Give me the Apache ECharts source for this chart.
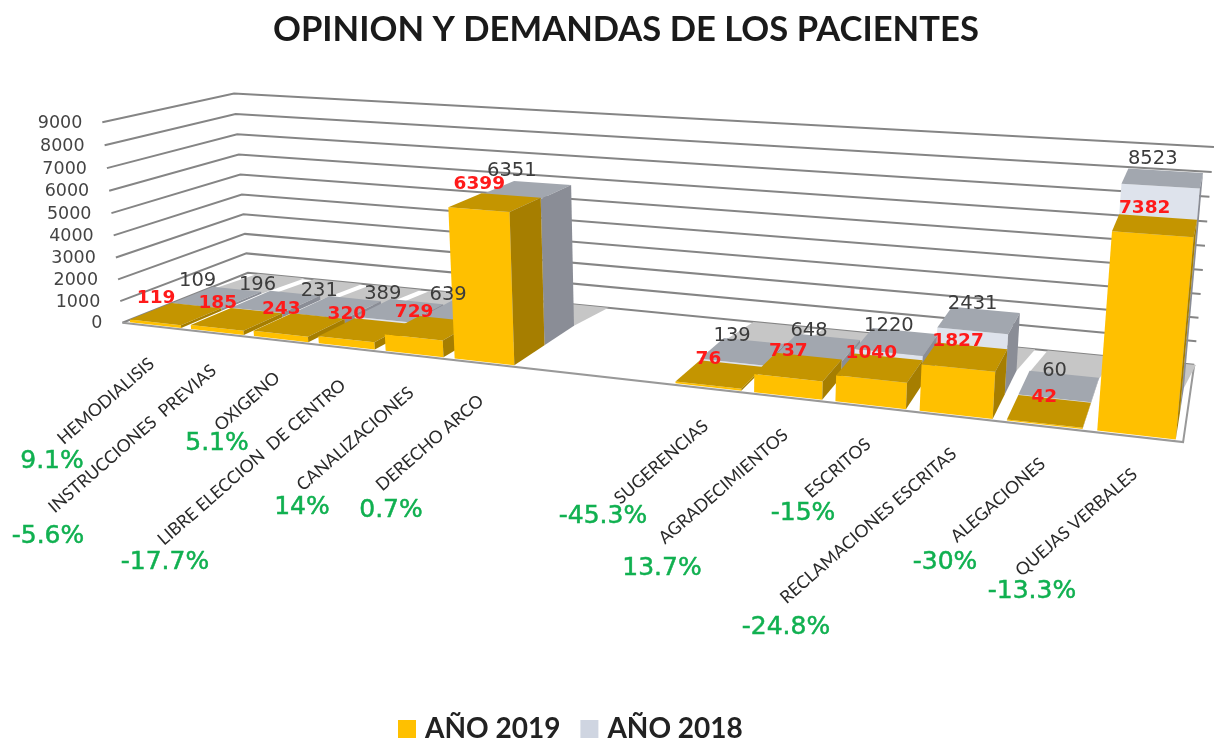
<!DOCTYPE html>
<html><head><meta charset="utf-8">
<style>html,body{margin:0;padding:0;background:#fff}#c{width:1214px;height:740px}</style>
<script src="https://cdn.jsdelivr.net/npm/echarts@6/dist/echarts.min.js"></script>
</head><body><div id="c"></div>
<script>
// ---------- data ----------
const categories = ['HEMODIALISIS','INSTRUCCIONES  PREVIAS','OXIGENO','LIBRE ELECCION  DE CENTRO','CANALIZACIONES','DERECHO ARCO','','','SUGERENCIAS','AGRADECIMIENTOS','ESCRITOS','RECLAMACIONES ESCRITAS','ALEGACIONES','QUEJAS VERBALES'];
const values2019 = [119,185,243,320,729,6399,null,null,76,737,1040,1827,42,7382];
const values2018 = [109,196,231,389,639,6351,null,null,139,648,1220,2431,60,8523];
const tickLabels = [0,1000,2000,3000,4000,5000,6000,7000,8000,9000];
const changes = ['9.1%','-5.6%','5.1%','-17.7%','14%','0.7%','-45.3%','13.7%','-15%','-24.8%','-30%','-13.3%'];
// ---------- layout ----------
const changePos = [[52,461],[48,536],[217,443],[165,562],[302,507],[391,510],[603,516],[662,568],[803,513],[786,627],[945,562],[1032,591]];
const W = 14, GAP = 0.08;
const Y19 = [0.02,0.33], Y18 = [0.33,0.66];
// camera calibration: (X along axis, Y depth, Z height) -> picture position
const calib = [
 [0,0,0,122,323],[1,0,0,1182,440],[0,1,0,249,273],[1,1,0,1195,365],
 [0,0,1,103,122],[0,1,1,233,93],[1,1,1,1213,147],
 [5.08/W,.02,6399/9000,449,208],[5.92/W,.02,0,513,365],[8.08/W,.02,0,675,383],
 [13.08/W,.02,0,1098,432],[13.92/W,.02,7382/9000,1193,237],[13.08/W,.02,7382/9000,1114,232]
];
function solveCamera(pts){
  const n=11, A=Array.from({length:n},()=>new Array(n+1).fill(0));
  const add=(r,b)=>{for(let i=0;i<n;i++){for(let j=0;j<n;j++)A[i][j]+=r[i]*r[j];A[i][n]+=r[i]*b;}};
  pts.forEach(([X,Y,Z,px,py])=>{const x=px/1000,y=py/1000;
    add([X,Y,Z,1,0,0,0,0,-x*X,-x*Y,-x*Z],x);
    add([0,0,0,0,X,Y,Z,1,-y*X,-y*Y,-y*Z],y);});
  for(let c=0;c<n;c++){let p=c;for(let r=c+1;r<n;r++)if(Math.abs(A[r][c])>Math.abs(A[p][c]))p=r;
    [A[c],A[p]]=[A[p],A[c]];
    for(let r=0;r<n;r++){if(r===c)continue;const f=A[r][c]/A[c][c];for(let k=c;k<=n;k++)A[r][k]-=f*A[c][k];}}
  return A.map((row,i)=>row[n]/row[i]);
}
const P = solveCamera(calib);
function proj(X,Y,Z){const w=P[8]*X+P[9]*Y+P[10]*Z+1;
  return [1000*(P[0]*X+P[1]*Y+P[2]*Z+P[3])/w,1000*(P[4]*X+P[5]*Y+P[6]*Z+P[7])/w];}
// scale helpers: go through the hidden cartesian axes
function cellX(api,params,i){const cs=params.coordSys,band=api.size([1,0])[0];const c=api.coord([i,0])[0];
  return [(c-band/2-cs.x)/cs.width,band/cs.width];}
function normZ(api,params,v){const cs=params.coordSys;return (cs.y+cs.height-api.coord([0,v])[1])/cs.height;}
function poly(pts,fill){return {type:'polygon',shape:{points:pts},style:{fill:fill},silent:true};}

function barRender(row,cols){
  return function(params,api){
    const i=api.value(0),v=api.value(1);
    const [x0,b]=cellX(api,params,i), L=x0+b*GAP, R=x0+b*(1-GAP), Z=normZ(api,params,v);
    const [F,B]=row;
    return {type:'group',children:[
      poly([proj(L,F,0),proj(R,F,0),proj(R,F,Z),proj(L,F,Z)],cols[0]),
      poly([proj(L,F,Z),proj(R,F,Z),proj(R,B,Z),proj(L,B,Z)],cols[1]),
      poly([proj(R,F,0),proj(R,B,0),proj(R,B,Z),proj(R,F,Z)],cols[2])
    ]};
  };
}
function labelRender(row,col,font,lift){
  return function(params,api){
    const i=api.value(0),v=api.value(1);
    const [x0,b]=cellX(api,params,i), L=x0+b*GAP, Z=normZ(api,params,v);
    const p=proj(L+b*(i/13)*0.33,(row[0]+row[1])/2,Z);
    return {type:'text',x:p[0]+(i===13?-2:5),y:p[1]-lift-Z*5,style:{text:String(v),font:font,fill:col,align:'center',verticalAlign:'middle'}};
  };
}
function pairs(vals){return vals.map((v,i)=>[i,v]).filter(d=>d[1]!==null);}

const option={
  animation:false,backgroundColor:'#fff',
  title:{text:'OPINION Y DEMANDAS DE LOS PACIENTES',left:273,top:12,padding:0,
    textStyle:{fontFamily:'Lato',fontWeight:'bold',fontSize:34.6,color:'#1a1a1a'}},
  legend:{data:['AÑO 2019','AÑO 2018'],left:393,top:710,icon:'rect',itemWidth:18,itemHeight:18,itemGap:20,
    textStyle:{fontFamily:'Lato',fontWeight:'bold',fontSize:28,color:'#222',padding:[0,0,0,4]}},
  grid:{left:0,right:0,top:0,bottom:0},
  xAxis:{type:'category',data:categories,show:false},
  yAxis:{type:'value',min:0,max:9000,interval:1000,show:false},
  series:[
   {name:'frame',type:'custom',z:1,silent:true,data:tickLabels.map(v=>[0,v]),
    renderItem(params,api){
      const Z=normZ(api,params,api.value(1));
      const a=proj(0,0,Z),b=proj(0,1,Z),c=proj(1,1,Z);
      const ls={stroke:'#858585',lineWidth:2,fill:null};
      const kids=[{type:'polyline',shape:{points:[a,b,c]},style:ls,silent:true},
        {type:'text',x:a[0]-20,y:a[1]+1,style:{text:String(api.value(1)),font:'17.5px "DejaVu Sans"',fill:'#444',align:'right',verticalAlign:'middle'}}];
      if(api.value(1)===0){kids.push({type:'polyline',shape:{points:[a,proj(1,0,0),c]},style:{stroke:'#999',lineWidth:2,fill:null},silent:true});}
      return {type:'group',children:kids};
    }},
   {name:'shadow',type:'custom',z:2,silent:true,data:pairs(values2018),
    renderItem(params,api){
      const [x0,b]=cellX(api,params,api.value(0)),L=x0+b*GAP,R=x0+b*(1-GAP);
      return poly([proj(L,Y18[1],0),proj(R,Y18[1],0),proj(R+b*0.1,1,0),proj(L+b*0.1,1,0)],'#c6c6c6');
    }},
   {name:'catLabels',type:'custom',z:6,silent:true,data:categories.map((c,i)=>[i,0]).filter(d=>categories[d[0]]),
    renderItem(params,api){
      const i=api.value(0),[x0,b]=cellX(api,params,i),p=proj(x0+b/2,0,0);
      return {type:'text',x:p[0]-1,y:p[1]+35,rotation:41*Math.PI/180,style:{text:categories[i],font:'17.5px Lato',fill:'#2a2a2a',align:'right',verticalAlign:'middle'}};
    }},
   {name:'AÑO 2018',type:'custom',z:3,itemStyle:{color:'#CFD5E1'},data:pairs(values2018),
    renderItem:barRender(Y18,['#DEE3EC','#A2A7AF','#8A8D96'])},
   {name:'AÑO 2019',type:'custom',z:4,itemStyle:{color:'#FFC000'},data:pairs(values2019),
    renderItem:barRender(Y19,['#FFC000','#C49500','#A67E00'])},
   {name:'labels2018',type:'custom',z:7,silent:true,data:pairs(values2018),
    renderItem:labelRender(Y18,'#3c3c3c','19.5px "DejaVu Sans"',14)},
   {name:'labels2019',type:'custom',z:8,silent:true,data:pairs(values2019),
    renderItem:labelRender(Y19,'#FF1A1A','bold 18.5px "DejaVu Sans"',13)}
  ],
  graphic:changes.map((t,i)=>({type:'text',x:changePos[i][0],y:changePos[i][1],z:100,
    style:{text:t,font:'25px "DejaVu Sans"',fill:'#10B050',stroke:'#10B050',lineWidth:0.5,align:'center',verticalAlign:'middle'}}))
};
echarts.init(document.getElementById('c'),null,{renderer:'canvas'}).setOption(option);
</script></body></html>
